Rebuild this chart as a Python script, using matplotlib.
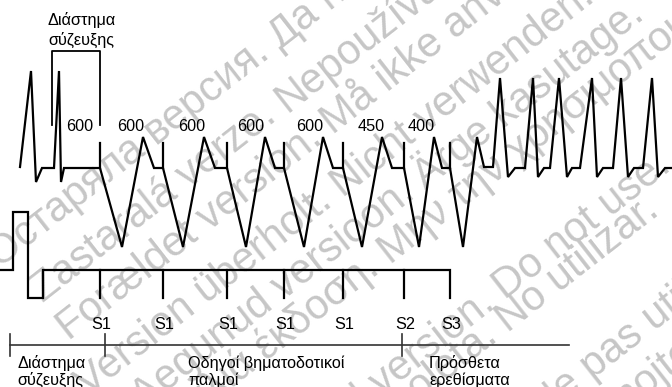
import numpy as np
import matplotlib.pyplot as plt

# ECG trace (pixel coords of the original drawing, y grows downward)
ecg_x = [20, 31, 36, 42, 54, 59, 61, 64, 100, 122, 143, 154, 163, 183, 204, 215, 227,
         246, 265, 275, 284, 304, 323, 333, 343, 362, 382, 392, 404, 419, 434, 442, 450,
         463, 477, 484, 493, 500, 508, 515, 525, 533, 538, 544, 550, 559, 567, 572, 580,
         592, 597, 603, 613, 621, 628, 634, 643, 652, 658, 665, 672]
ecg_y = [167, 71, 182, 168, 168, 71, 182, 168, 168, 247, 137, 168, 168, 247, 137, 168, 168,
         247, 137, 168, 168, 247, 137, 168, 168, 247, 137, 168, 168, 247, 137, 168, 168,
         247, 137, 167, 167, 78, 177, 168, 168, 78, 177, 168, 168, 78, 177, 168, 168,
         78, 177, 168, 168, 78, 177, 168, 168, 78, 177, 168, 168]

# pacing markers
pace_x = [100, 163, 227, 284, 343, 404, 450]
pace_labels = ['S1', 'S1', 'S1', 'S1', 'S1', 'S2', 'S3']
interval_x = [80, 131, 192, 251, 310, 371, 421]
interval_labels = ['600', '600', '600', '600', '600', '450', '400']

# stimulation channel
stim_x = [0, 13, 13, 28, 28, 43, 43, 450, 450]
stim_y = [270, 270, 212, 212, 298, 298, 270, 270, 298]

# bottom scale
scale_x = [10, 569]
scale_ticks = [10, 105, 402]

watermark = [
    ("Остаряла версия.", "Да не се използва.", 280, 50),
    ("Zastaralá verze.", "Nepoužívat.", 287, 113),
    ("Forældet version.", "Må ikke anvendes.", 333, 135),
    ("Version überholt.", "Nicht verwenden.", 343, 198),
    ("Aegunud versioon.", "Ärge kasutage.", 425, 190),
    ("Παλιά έκδοση.", "Μην την χρησιμοποιείτε.", 390, 265),
    ("Outdated version.", "Do not use.", 505, 300),
    ("Versión obsoleta.", "No utilizar.", 508, 333),
    ("Version périmée.", "Ne pas utiliser.", 541, 420),
    ("Zastarjela verzija.", "Nemojte upotrebljavati.", 575, 452),
]

plt.rcParams['font.family'] = ['Liberation Sans', 'DejaVu Sans']

fig = plt.figure(figsize=(6.72, 3.87), dpi=100)
ax = fig.add_axes([0, 0, 1, 1])
ax.set_xlim(0, 672)
ax.set_ylim(387, 0)
ax.axis('off')

# watermark
ang = 38
ux, uy = np.cos(np.radians(ang)), -np.sin(np.radians(ang))
wm_color = '#c6c6c6'
for first, second, x, y in watermark:
    ax.text(x, y, second, rotation=ang, rotation_mode='anchor', ha='left', va='baseline',
            fontsize=30, color=wm_color, zorder=0)
    ax.text(x - 11 * ux, y - 11 * uy, first, rotation=ang, rotation_mode='anchor',
            ha='right', va='baseline', fontsize=30, color=wm_color, zorder=0)

lw = 1.6
ax.plot(ecg_x, ecg_y, color='black', lw=lw, solid_joinstyle='miter', zorder=3)
for x in pace_x:
    ax.plot([x, x], [143, 168], color='black', lw=lw, zorder=3)
    if x != 450:
        ax.plot([x, x], [270, 298], color='black', lw=lw, zorder=3)
ax.plot(stim_x, stim_y, color='black', lw=lw, solid_joinstyle='miter', zorder=3)

# coupling interval bracket
ax.plot([52, 52, 100, 100], [125, 51, 51, 125], color='black', lw=1.3, zorder=3)

fs = 11.7
ax.text(48, 25, 'Διάστημα', fontsize=fs, va='baseline', ha='left', zorder=4)
ax.text(48, 45, 'σύζευξης', fontsize=fs, va='baseline', ha='left', zorder=4)

for x, lab in zip(interval_x, interval_labels):
    ax.text(x, 131, lab, fontsize=fs, ha='center', va='baseline', zorder=4)
for x, lab in zip(pace_x, pace_labels):
    ax.text(x + 1, 329, lab, fontsize=fs, ha='center', va='baseline', zorder=4)

ax.plot(scale_x, [345, 345], color='#333333', lw=1.2, zorder=3)
for x in scale_ticks:
    ax.plot([x, x], [334, 356], color='#333333', lw=1.2, zorder=3)

ax.text(17, 368, 'Διάστημα', fontsize=fs, va='baseline', zorder=4)
ax.text(17, 385, 'σύζευξης', fontsize=fs, va='baseline', zorder=4)
ax.text(188, 368, 'Οδηγοί βηματοδοτικοί', fontsize=fs, va='baseline', zorder=4)
ax.text(188, 385, 'παλμοί', fontsize=fs, va='baseline', zorder=4)
ax.text(429, 368, 'Πρόσθετα', fontsize=fs, va='baseline', zorder=4)
ax.text(429, 385, 'ερεθίσματα', fontsize=fs, va='baseline', zorder=4)

fig.savefig('out.png', dpi=100)
plt.close(fig)
